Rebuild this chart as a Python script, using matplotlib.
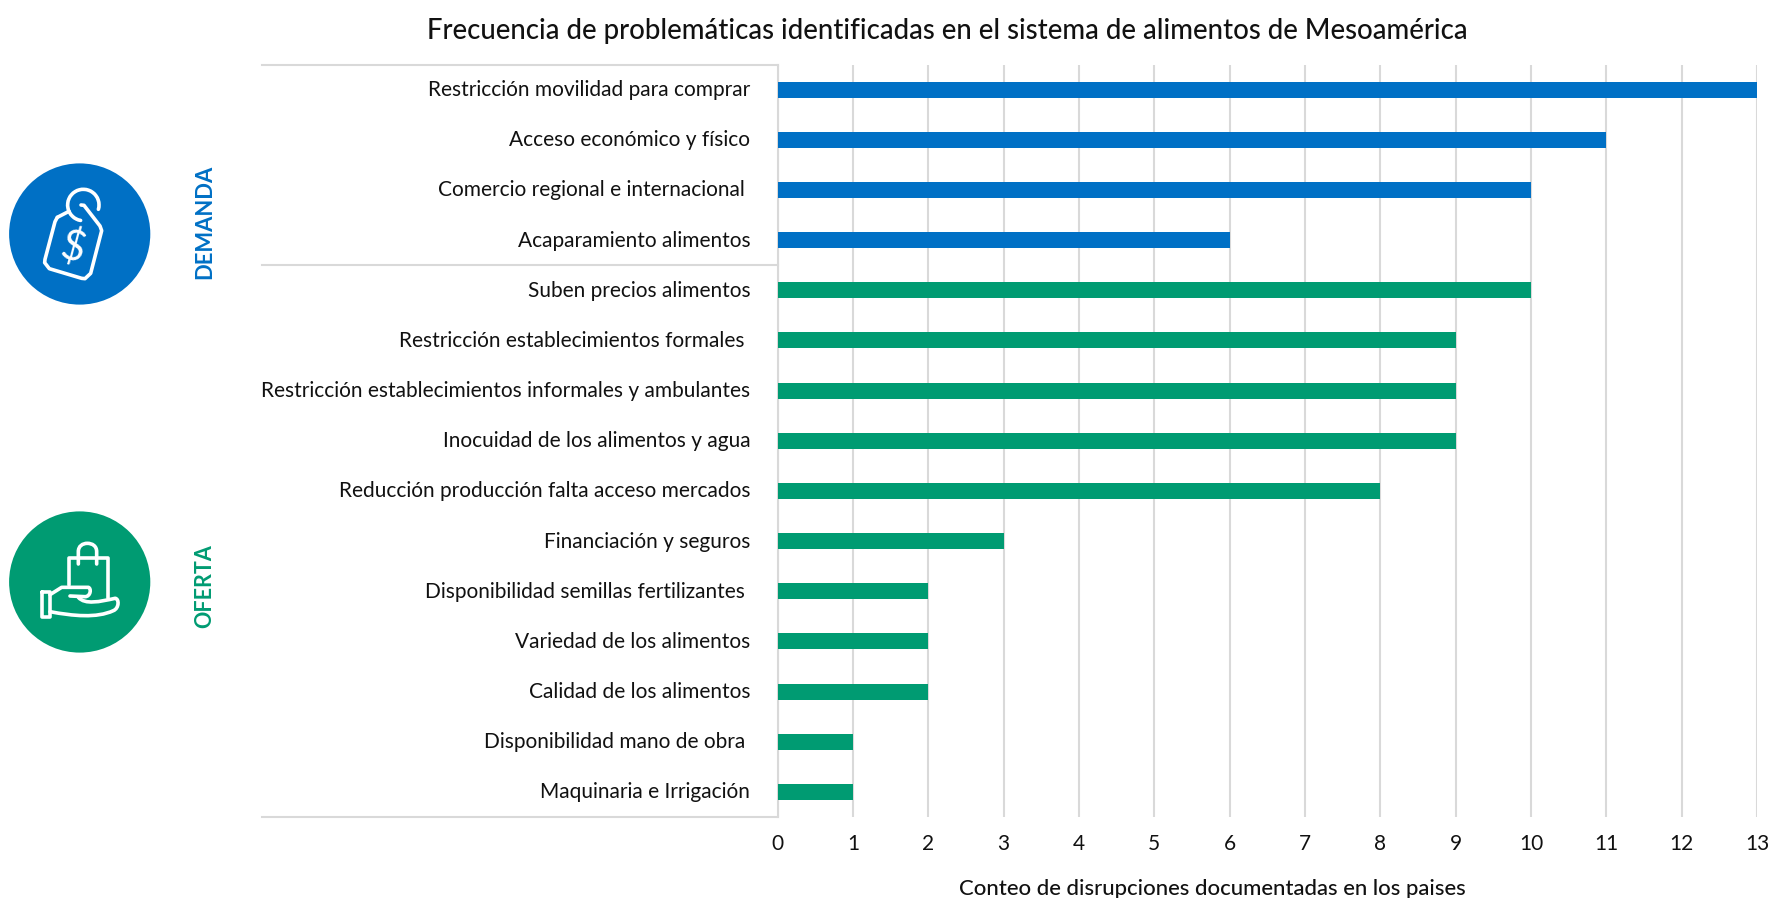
import matplotlib
matplotlib.use("Agg")
import matplotlib.pyplot as plt
from matplotlib.patches import Circle, Arc
from matplotlib.path import Path
from matplotlib.patches import PathPatch
from matplotlib.transforms import blended_transform_factory, ScaledTranslation

plt.rcParams['font.family'] = ['Lato', 'DejaVu Sans']

W, H = 1785, 898
BLUE = '#0070C5'
GREEN = '#009B72'
GRID = '#D9D9D9'
TEXT = '#111111'

demanda_labels = ['Restricción movilidad para comprar', 'Acceso económico y físico',
                  'Comercio regional e internacional ', 'Acaparamiento alimentos']
demanda_values = [13, 11, 10, 6]
oferta_labels = ['Suben precios alimentos', 'Restricción establecimientos formales ',
                 'Restricción establecimientos informales y ambulantes',
                 'Inocuidad de los alimentos y agua', 'Reducción producción falta acceso mercados',
                 'Financiación y seguros', 'Disponibilidad semillas fertilizantes ',
                 'Variedad de los alimentos', 'Calidad de los alimentos',
                 'Disponibilidad mano de obra ', 'Maquinaria e Irrigación']
oferta_values = [10, 9, 9, 9, 8, 3, 2, 2, 2, 1, 1]
x_ticks = list(range(14))

fig = plt.figure(figsize=(W / 100, H / 100), dpi=100, facecolor='white')
L, R, T, B = 777.5, 1757, 64.5, 817
ax = fig.add_axes([L / W, 1 - B / H, (R - L) / W, (B - T) / H])

labels = demanda_labels + oferta_labels
values = demanda_values + oferta_values
colors = [BLUE] * len(demanda_values) + [GREEN] * len(oferta_values)
pos = list(range(len(labels)))
ax.barh(pos, values, height=0.32, color=colors, zorder=3)
ax.set_ylim(len(labels) - 0.5, -0.5)
ax.set_xlim(0, 13)
ax.set_yticks(pos)
ax.set_yticklabels(labels, fontsize=15.05, color=TEXT)
ax.set_xticks(x_ticks)
ax.set_xticklabels([str(t) for t in x_ticks], fontsize=15, color=TEXT)
ax.tick_params(axis='y', length=0, pad=19.7)
ax.tick_params(axis='x', length=0, pad=12.5)
up = ScaledTranslation(0, 1.5 / 100, fig.dpi_scale_trans)
for lab in ax.get_yticklabels():
    lab.set_transform(lab.get_transform() + up)
ax.grid(axis='x', color=GRID, lw=1.5, zorder=0)
ax.set_axisbelow(True)
for s in ['top', 'right', 'bottom']:
    ax.spines[s].set_visible(False)
ax.spines['left'].set_color(GRID)
ax.spines['left'].set_linewidth(1.5)
ax.set_xlabel('Conteo de disrupciones documentadas en los paises', fontsize=15.9,
              color=TEXT, fontweight='medium', labelpad=18, x=(1212 - L) / (R - L))

# horizontal rules that extend left of the plot, under the labels
tr = blended_transform_factory(ax.transAxes, ax.transData)
left_frac = (262 - L) / (R - L)
for y in [-0.5, len(demanda_values) - 0.5, len(labels) - 0.5]:
    ax.plot([left_frac, 0], [y, y], transform=tr, color=GRID, lw=1.5, clip_on=False, zorder=1)

fig.text(0.5 * (428 + 1467) / W, 1 - 31 / H,
         'Frecuencia de problemáticas identificadas en el sistema de alimentos de Mesoamérica',
         fontsize=19.8, color=TEXT, ha='center', va='center', fontweight='medium')

# overlay in pixel coordinates for the decorative badges
ov = fig.add_axes([0, 0, 1, 1], facecolor='none')
ov.set_xlim(0, W)
ov.set_ylim(H, 0)
ov.axis('off')

ov.add_patch(Circle((79.7, 234), 70.6, fc=BLUE, ec='none'))
ov.add_patch(Circle((79.7, 582), 70.6, fc=GREEN, ec='none'))
ov.text(204.5, 222, 'DEMANDA', rotation=90, color=BLUE, fontsize=15.8, fontweight='bold',
        ha='center', va='center')
ov.text(204.5, 586.5, 'OFERTA', rotation=90, color=GREEN, fontsize=15.5, fontweight='bold',
        ha='center', va='center')

ICON_LW = 2.6


def line(pts, ox, oy, closed=False):
    xs = [p[0] / 3 + ox for p in pts]
    ys = [p[1] / 3 + oy for p in pts]
    if closed:
        xs.append(xs[0])
        ys.append(ys[0])
    ov.plot(xs, ys, color='white', lw=ICON_LW, solid_capstyle='round', solid_joinstyle='round')


def curve(verts, codes, ox, oy, lw=ICON_LW):
    v = [(p[0] / 3 + ox, p[1] / 3 + oy) for p in verts]
    ov.add_patch(PathPatch(Path(v, codes), fc='none', ec='white', lw=lw,
                           capstyle='round', joinstyle='round'))


# price tag
ox, oy = 0, 140
line([(172, 232), (207, 214)], ox, oy)
line([(243, 195), (252, 196), (300, 258), (305, 272), (272, 400), (255, 416), (245, 415),
      (148, 386), (134, 368), (135, 358), (165, 245), (172, 232)], ox, oy)
ov.add_patch(Arc((250 / 3, 195 / 3 + 140), 94 / 3, 94 / 3, theta1=100, theta2=376,
                 ec='white', lw=ICON_LW, capstyle='round'))
ov.text(220 / 3, 322 / 3 + 140, '$', color='white', fontsize=30,
        rotation=-15, ha='center', va='center')

# shopping bag on a hand
ox, oy = 0, 490
line([(207, 285), (207, 205), (325, 205), (325, 325)], ox, oy)
M, C, LI = Path.MOVETO, Path.CURVE4, Path.LINETO
curve([(235, 222), (235, 185), (235, 168), (248, 160), (262, 160), (277, 160), (290, 168), (290, 185), (290, 222)],
      [M, LI, C, C, C, C, C, C, LI], ox, oy)
curve([(127, 305), (150, 305), (150, 382), (127, 382), (127, 305)], [M, LI, LI, LI, LI], ox, oy)
curve([(150, 314), (185, 292), (265, 292), (275, 295), (272, 320), (255, 320), (210, 318)],
      [M, LI, LI, C, C, C, LI], ox, oy)
curve([(235, 322), (255, 345), (300, 335), (345, 325), (358, 325), (358, 355), (340, 362),
      (290, 385), (220, 378), (150, 365)],
      [M, C, C, C, C, C, C, C, C, C], ox, oy)

fig.savefig('out.png', dpi=100, facecolor='white')
